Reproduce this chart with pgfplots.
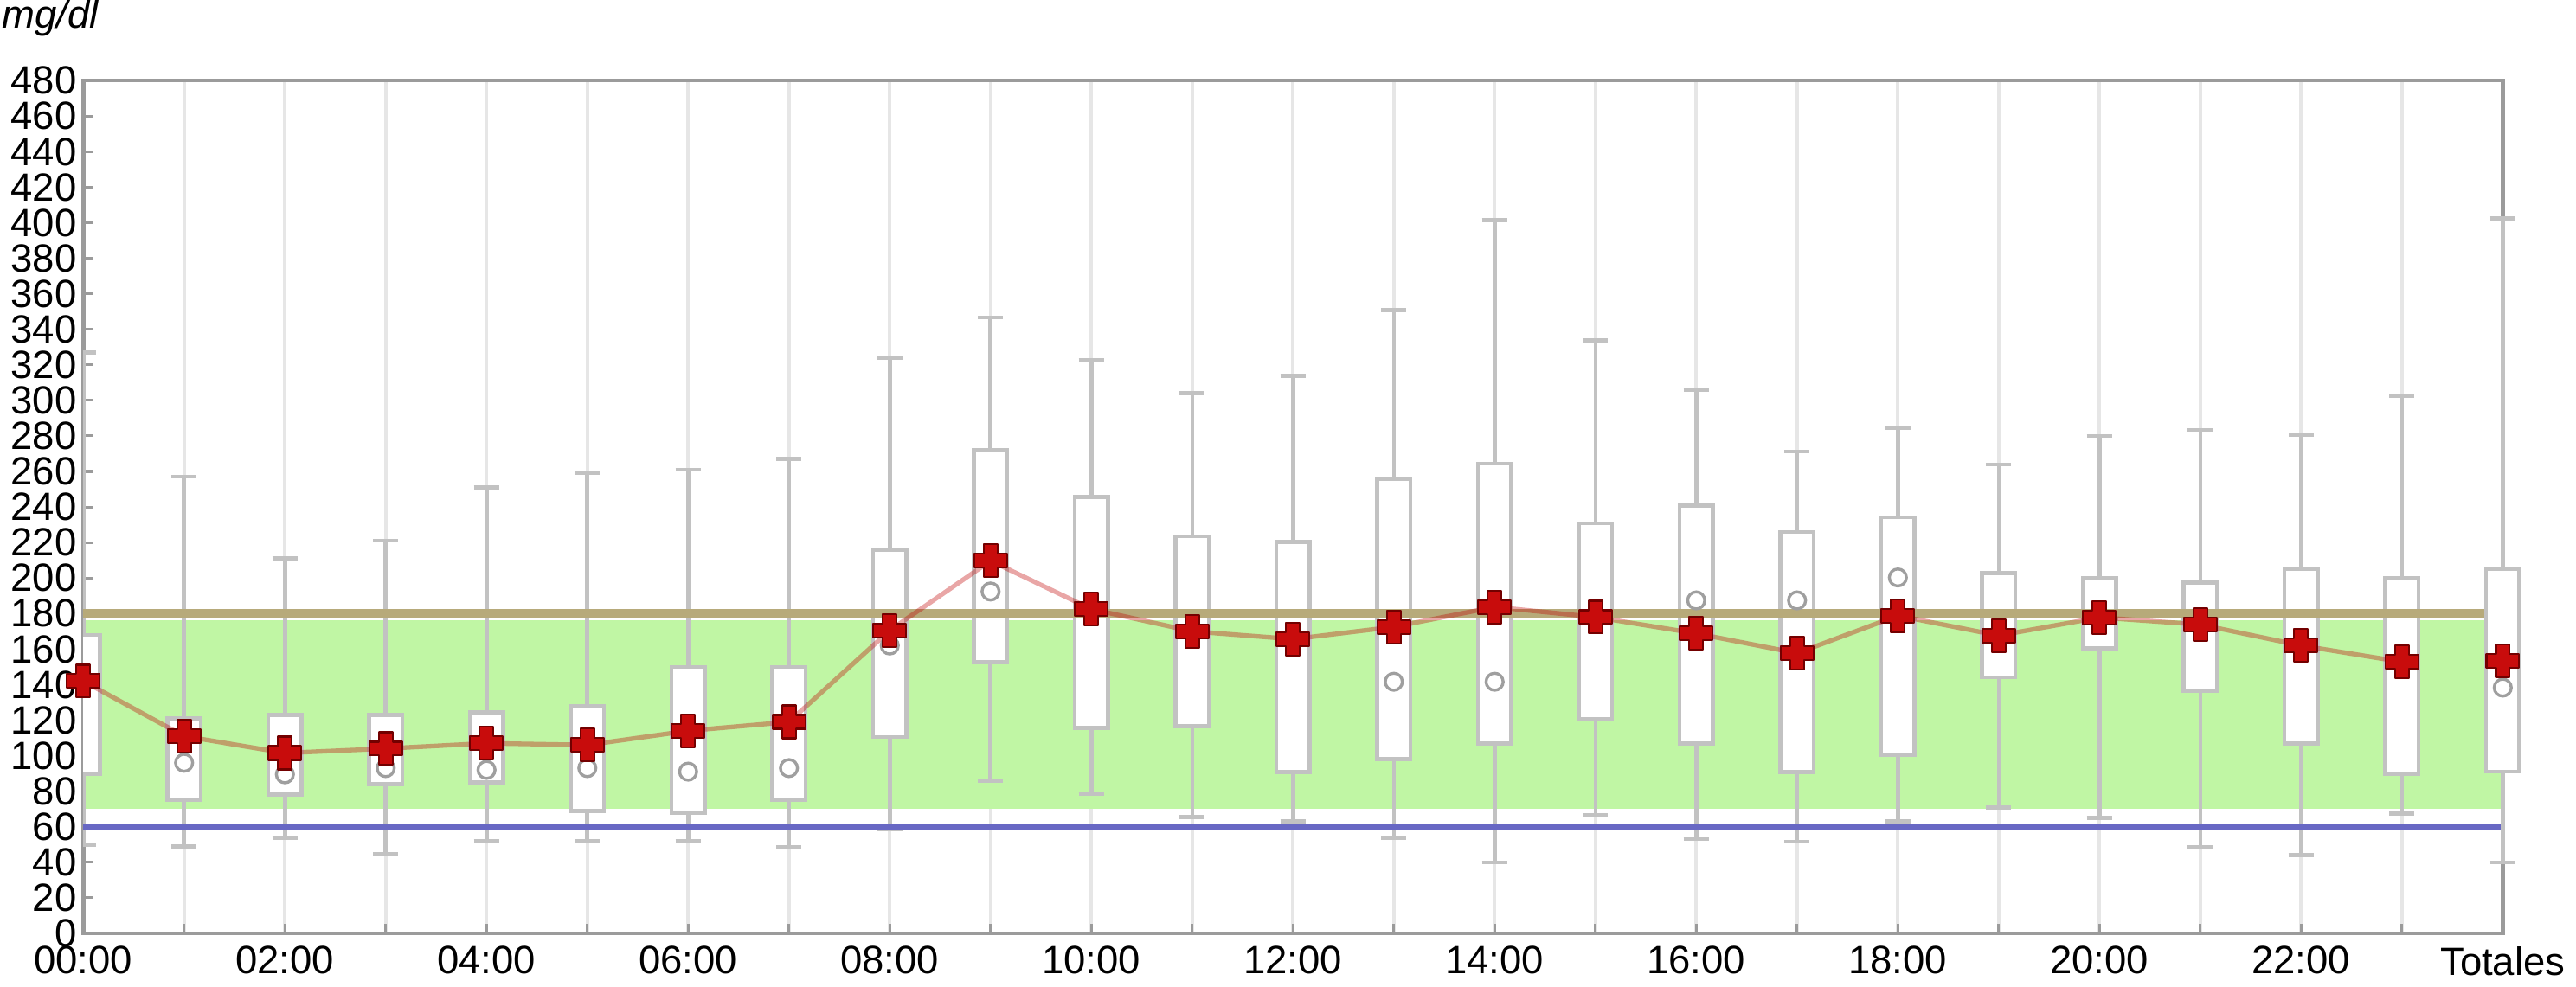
\documentclass[border=0pt]{standalone}
\usepackage{fontspec}
\setmainfont{Liberation Sans}
\usepackage{pgfplots}
\usepackage{pgfplotstable}
\pgfplotsset{compat=1.18}
\usepgfplotslibrary{statistics}

\definecolor{bandgreen}{RGB}{192,246,164}
\definecolor{olivel}{RGB}{183,170,122}
\definecolor{bluel}{RGB}{104,104,196}
\definecolor{boxgray}{RGB}{194,194,194}
\definecolor{gridgray}{RGB}{230,230,230}
\definecolor{axgray}{RGB}{155,155,155}
\definecolor{meanred}{RGB}{200,12,12}
\definecolor{meandark}{RGB}{115,0,0}

\pgfdeclareplotmark{fatplus}{%
  \pgfpathmoveto{\pgfqpoint{-0.42\pgfplotmarksize}{\pgfplotmarksize}}%
  \pgfpathlineto{\pgfqpoint{0.42\pgfplotmarksize}{\pgfplotmarksize}}%
  \pgfpathlineto{\pgfqpoint{0.42\pgfplotmarksize}{0.42\pgfplotmarksize}}%
  \pgfpathlineto{\pgfqpoint{\pgfplotmarksize}{0.42\pgfplotmarksize}}%
  \pgfpathlineto{\pgfqpoint{\pgfplotmarksize}{-0.42\pgfplotmarksize}}%
  \pgfpathlineto{\pgfqpoint{0.42\pgfplotmarksize}{-0.42\pgfplotmarksize}}%
  \pgfpathlineto{\pgfqpoint{0.42\pgfplotmarksize}{-\pgfplotmarksize}}%
  \pgfpathlineto{\pgfqpoint{-0.42\pgfplotmarksize}{-\pgfplotmarksize}}%
  \pgfpathlineto{\pgfqpoint{-0.42\pgfplotmarksize}{-0.42\pgfplotmarksize}}%
  \pgfpathlineto{\pgfqpoint{-\pgfplotmarksize}{-0.42\pgfplotmarksize}}%
  \pgfpathlineto{\pgfqpoint{-\pgfplotmarksize}{0.42\pgfplotmarksize}}%
  \pgfpathlineto{\pgfqpoint{-0.42\pgfplotmarksize}{0.42\pgfplotmarksize}}%
  \pgfpathclose
  \pgfusepathqfillstroke}

\pgfplotsset{
  base/.style={scale only axis, width=737.5pt, height=260pt,
    xmin=0, xmax=24, ymin=0, ymax=480},
  bx/.style={draw=boxgray, fill=white, line width=1.2pt, solid,
    boxplot/box extend=0.33, boxplot/whisker extend=0.25,
    boxplot/draw direction=y, boxplot/draw/median/.code={}},
  meanmk/.style={only marks, mark=fatplus, mark size=5pt,
    mark options={fill=meanred, draw=meandark, line width=0.6pt, line join=round}},
  medmk/.style={only marks, mark=*, mark size=2.6pt,
    mark options={fill=white, draw=gray!75, line width=0.9pt}},
}

% hour  lower whisker  lower quartile  median  upper quartile  upper whisker  mean
\pgfplotstableread{
h lw q1 med q3 uw mean
0 50 89.5 130 168 327 142
1 49 75 96 121 257 111
2 53.5 78 89.5 123 211 101.5
3 44.6 84 93 123 221 104
4 51.7 85 92 124.5 251 107
5 51.7 69 93 128 259 106
6 51.7 68 91 150 261 114
7 48.5 75 93 150 267 119
8 58.5 110.5 162 216 324 170.5
9 85.8 152.7 192.4 271.8 346.7 209.7
10 78.3 115.5 182 245.7 322.6 182.5
11 65.4 116.7 170 223.4 304 170
12 62.9 90.7 165 220.2 313.9 165.6
13 53.5 98.2 141.6 255.6 350.7 172.5
14 39.9 106.8 141.6 264.3 401.5 183.7
15 66.4 120.5 178 230.8 333.8 178
16 53 106.8 187.4 240.7 305.7 168.8
17 51.5 90.7 187.4 225.9 271.3 157.7
18 62.9 100.6 200.3 234.1 284.6 178.8
19 70.8 144 167 202.8 263.8 167.6
20 64.9 160.5 178 200 280 177.8
21 48.4 136.5 174 197.4 283.4 173.8
22 44 106.8 172 205.2 280.8 162
23 67.5 89.8 152 200 302.3 152.8
}\hourly

\newcommand{\bxp}[6]{\addplot[bx, boxplot prepared={draw position=#1, lower whisker=#2,
  lower quartile=#3, median=#4, upper quartile=#5, upper whisker=#6}] coordinates {};}

\begin{document}
\begin{tikzpicture}
\begin{axis}[base, name=ax,
  axis line style={axgray, line width=1.2pt},
  xtick={0,2,...,24}, minor xtick={1,3,...,23},
  xticklabels={00:00,02:00,04:00,06:00,08:00,10:00,12:00,14:00,16:00,18:00,20:00,22:00,Totales},
  ytick={0,20,...,480},
  /pgf/number format/assume math mode=true,
  tick style={axgray, line width=0.8pt},
  major tick length=3pt, minor tick length=3pt,
  tick align=inside, xtick pos=bottom, ytick pos=left,
  xmajorgrids, xminorgrids,
  major grid style={gridgray, line width=1pt},
  minor grid style={gridgray, line width=1pt},
  ticklabel style={font=\fontsize{12}{12}\selectfont, black},
  yticklabel style={xshift=1.5pt},
  xticklabel style={yshift=-0.5pt},
]
% target band
\addplot[draw=none, fill=bandgreen] coordinates {(0,70) (24,70) (24,176) (0,176)} -- cycle;
% boxes
\bxp{0}{50}{89.5}{130}{168}{327}
\bxp{1}{49}{75}{96}{121}{257}
\bxp{2}{53.5}{78}{89.5}{123}{211}
\bxp{3}{44.6}{84}{93}{123}{221}
\bxp{4}{51.7}{85}{92}{124.5}{251}
\bxp{5}{51.7}{69}{93}{128}{259}
\bxp{6}{51.7}{68}{91}{150}{261}
\bxp{7}{48.5}{75}{93}{150}{267}
\bxp{8}{58.5}{110.5}{162}{216}{324}
\bxp{9}{85.8}{152.7}{192.4}{271.8}{346.7}
\bxp{10}{78.3}{115.5}{182}{245.7}{322.6}
\bxp{11}{65.4}{116.7}{170}{223.4}{304}
\bxp{12}{62.9}{90.7}{165}{220.2}{313.9}
\bxp{13}{53.5}{98.2}{141.6}{255.6}{350.7}
\bxp{14}{39.9}{106.8}{141.6}{264.3}{401.5}
\bxp{15}{66.4}{120.5}{178}{230.8}{333.8}
\bxp{16}{53}{106.8}{187.4}{240.7}{305.7}
\bxp{17}{51.5}{90.7}{187.4}{225.9}{271.3}
\bxp{18}{62.9}{100.6}{200.3}{234.1}{284.6}
\bxp{19}{70.8}{144}{167}{202.8}{263.8}
\bxp{20}{64.9}{160.5}{178}{200}{280}
\bxp{21}{48.4}{136.5}{174}{197.4}{283.4}
\bxp{22}{44}{106.8}{172}{205.2}{280.8}
\bxp{23}{67.5}{89.8}{152}{200}{302.3}
% limit lines
\addplot[olivel, line width=2.8pt] coordinates {(0,180) (24,180)};
\addplot[bluel, line width=1.6pt] coordinates {(0,60) (24,60)};
% mean line
\addplot[red!75!black, opacity=0.35, line width=1.4pt] table[x=h, y=mean] {\hourly};
% medians (visible ones)
\addplot[medmk] coordinates {(1,96) (2,89.5) (3,93) (4,92) (5,93) (6,91) (7,93) (8,162) (9,192.4)
  (13,141.6) (14,141.6) (16,187.4) (17,187.4) (18,200.3)};
% means
\addplot[meanmk] table[x=h, y=mean] {\hourly};
\end{axis}
% Totales box, drawn unclipped over the right axis line
\begin{axis}[base, hide axis, clip=false]
\bxp{24}{40}{91.1}{138.3}{205.2}{402.5}
\addplot[medmk] coordinates {(24,138.3)};
\addplot[meanmk] coordinates {(24,153.3)};
\end{axis}
\node[anchor=west, font=\fontsize{12}{12}\selectfont\itshape, inner sep=0pt]
  at ([xshift=-25pt, yshift=19pt]ax.north west) {mg/dl};
\end{tikzpicture}
\end{document}
